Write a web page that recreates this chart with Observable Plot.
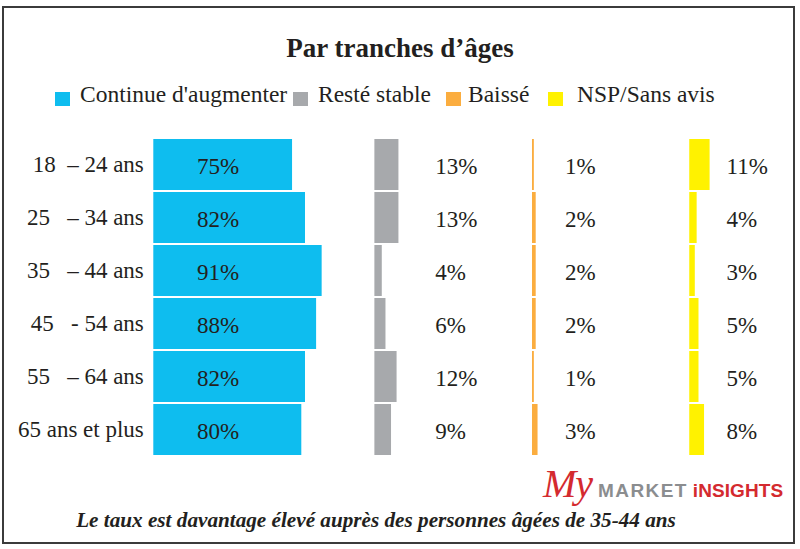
<!DOCTYPE html>
<html>
<head>
<meta charset="utf-8">
<script src="https://cdn.jsdelivr.net/npm/d3@7"></script>
<script src="https://cdn.jsdelivr.net/npm/@observablehq/plot@0.6"></script>
<style>
  html, body { margin: 0; padding: 0; background: #fff; }
  #page {
    position: relative; width: 800px; height: 549px; overflow: hidden;
    font-family: "Liberation Serif", "Times New Roman", serif; color: #231f20;
  }
  #frame {
    position: absolute; left: 2px; top: 6px; width: 789px; height: 534px;
    border: 2.5px solid #3b3b3b; box-sizing: content-box;
  }
  #title {
    position: absolute; left: 0; top: 35.4px; width: 800px; text-align: center;
    font-size: 27px; line-height: 27px; font-weight: bold;
  }
  .key { position: absolute; top: 82.6px; font-size: 23.5px; line-height: 23.5px; white-space: nowrap; }
  .swatch { position: absolute; top: 92px; width: 15px; height: 14px; }
  #chart { position: absolute; left: 0; top: 130px; }
  #logo {
    position: absolute; left: 543px; top: 460px; display: flex; align-items: baseline; white-space: nowrap;
  }
  #logo .my { font-family: "Liberation Serif", serif; font-style: italic; font-size: 40px; color: #d42a2f; margin-right: 6px; letter-spacing: -1px; }
  #logo .market { font-family: "Liberation Sans", Arial, sans-serif; font-weight: bold; font-size: 19px; color: #8b8d8f; letter-spacing: 1.4px; margin-right: 5px; }
  #logo .insights { font-family: "Liberation Sans", Arial, sans-serif; font-weight: bold; font-size: 19px; color: #d42a2f; letter-spacing: 0.1px; }
  #caption {
    position: absolute; left: 0; top: 510.3px; width: 752px; text-align: center;
    font-size: 21.2px; line-height: 21.2px; font-weight: bold; font-style: italic;
  }
</style>
</head>
<body>
<div id="page">
  <div id="frame"></div>
  <div id="title">Par tranches d’âges</div>
  <div id="legend"></div>
  <div id="chart"></div>
  <div id="logo"><span class="my">My</span><span class="market">MARKET</span><span class="insights">iNSIGHTS</span></div>
  <div id="caption">Le taux est davantage élevé auprès des personnes âgées de 35-44 ans</div>
</div>
<script>
// Age groups (row labels) and the share of answers per group, in percent
const ageGroups = [
  "18\u00a0\u00a0– 24 ans",
  "25\u00a0\u00a0\u00a0– 34 ans",
  "35\u00a0\u00a0\u00a0– 44 ans",
  "45\u00a0\u00a0\u00a0- 54 ans",
  "55\u00a0\u00a0\u00a0– 64 ans",
  "65 ans et plus"
];
const continueAugmenter = [75, 82, 91, 88, 82, 80];
const resteStable = [13, 13, 4, 6, 12, 9];
const baisse = [1, 2, 2, 2, 1, 3];
const nspSansAvis = [11, 4, 3, 5, 5, 8];
const seriesNames = ["Continue d'augmenter", "Resté stable", "Baissé", "NSP/Sans avis"];

const serif = "'Liberation Serif', 'Times New Roman', serif";

// Column layout: where each answer's bars start and where its labels sit (in x units)
const columns = [
  {name: seriesNames[0], values: continueAugmenter, color: "#0ebdef", start: 0,     labelX: 34.7,  anchor: "middle"},
  {name: seriesNames[1], values: resteStable,       color: "#a7a9ac", start: 119.5, labelX: 152.2, anchor: "start"},
  {name: seriesNames[2], values: baisse,            color: "#fbad3f", start: 204.7, labelX: 222.3, anchor: "start"},
  {name: seriesNames[3], values: nspSansAvis,       color: "#fff200", start: 289.7, labelX: 309.6, anchor: "start"}
];

// Legend above the chart
const legendPos = [
  {swatch: 55, text: 80},
  {swatch: 293, text: 318},
  {swatch: 445.5, text: 468},
  {swatch: 548, text: 577}
];
const legend = document.getElementById("legend");
columns.forEach((c, i) => {
  const sw = document.createElement("div");
  sw.className = "swatch";
  sw.style.left = legendPos[i].swatch + "px";
  sw.style.background = c.color;
  legend.appendChild(sw);
  const t = document.createElement("div");
  t.className = "key";
  t.style.left = legendPos[i].text + "px";
  t.textContent = c.name;
  legend.appendChild(t);
});

const marks = [];
for (const c of columns) {
  const rows = ageGroups.map((age, i) => ({age, value: c.values[i]}));
  marks.push(Plot.barX(rows, {
    x1: () => c.start,
    x2: d => c.start + d.value,
    y: "age",
    fill: c.color
  }));
  marks.push(Plot.text(rows, {
    x: () => c.labelX,
    y: "age",
    text: d => d.value + "%",
    textAnchor: c.anchor,
    fontSize: 23,
    fontFamily: serif,
    fill: "#231f20",
    dy: 2
  }));
}
marks.push(Plot.axisY({tickSize: 0, tickPadding: 10, fontSize: 23, fontFamily: serif, fill: "#231f20", label: null}));

const chart = Plot.plot({
  width: 800,
  height: 335,
  marginTop: 8,
  marginBottom: 7.7,
  marginLeft: 153.3,
  marginRight: 17.7,
  style: {fontFamily: serif, color: "#231f20", background: "transparent"},
  x: {domain: [0, 340], axis: null},
  y: {domain: ageGroups, paddingInner: 0.03, paddingOuter: 0, label: null},
  marks
});
document.getElementById("chart").appendChild(chart);
</script>
</body>
</html>
